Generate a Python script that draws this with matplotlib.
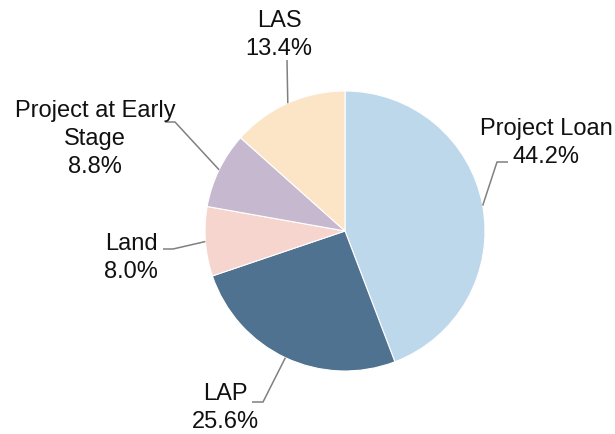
import numpy as np
import matplotlib
matplotlib.use("Agg")
import matplotlib.pyplot as plt

plt.rcParams['font.family'] = ['Liberation Sans', 'DejaVu Sans']

# portfolio mix (%)
segments = ['Project Loan', 'LAP', 'Land', 'Project at Early Stage', 'LAS']
shares = [44.2, 25.6, 8.0, 8.8, 13.4]
colors = ['#BDD7EB', '#4E728F', '#F5D5CE', '#C6B9CF', '#FCE4C6']

# label text lines, label centre x and first baseline y (pixels from top)
label_lines = [['Project Loan', '44.2%'], ['LAP', '25.6%'], ['Land', '8.0%'],
               ['Project at Early', 'Stage', '8.8%'], ['LAS', '13.4%']]
label_x = [546, 225, 131, 95, 279]
label_y = [135, 400, 250, 117, 27]
# leader line elbow and end points
elbow = [(497, 162), (263, 402), (173, 249), (175, 122), (287, 60)]
tail = [(508, 162), (252, 402), (163, 249), (165, 122), (287, 60)]

W, H = 615, 434
cx, cy, r = 345, 231, 140

fig = plt.figure(figsize=(W / 100, H / 100), dpi=100)
ax = fig.add_axes([0, 0, 1, 1])

# y axis runs downward, so counterclock in data space is clockwise on screen
wedges, _ = ax.pie(shares, colors=colors, startangle=-90, counterclock=True,
                   center=(cx, cy), radius=r,
                   wedgeprops=dict(edgecolor='white', linewidth=0.8))

ax.set_xlim(0, W)
ax.set_ylim(H, 0)
ax.set_aspect('equal')
ax.axis('off')

for i, w in enumerate(wedges):
    mid = np.deg2rad((w.theta1 + w.theta2) / 2)
    sx, sy = cx + r * np.cos(mid), cy + r * np.sin(mid)
    ax.plot([sx, elbow[i][0], tail[i][0]], [sy, elbow[i][1], tail[i][1]],
            color='#808080', lw=1.1, solid_capstyle='butt')
    for j, line in enumerate(label_lines[i]):
        ax.text(label_x[i], label_y[i] + 28 * j, line, fontsize=17,
                ha='center', va='baseline', color='#111111')

fig.savefig('out.png', dpi=100)
